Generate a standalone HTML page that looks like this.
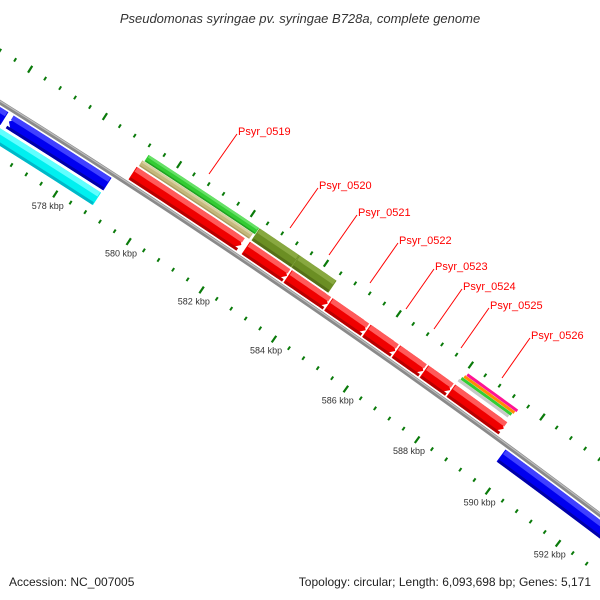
<!DOCTYPE html>
<html><head><meta charset="utf-8"><style>
html,body{margin:0;padding:0;background:#fff;width:600px;height:600px;overflow:hidden;}
svg{display:block;font-family:"Liberation Sans",sans-serif;overflow:hidden;}
</style></head><body>
<svg id="map" width="600" height="600" viewBox="0 0 600 600">
<text x="300" y="23" text-anchor="middle" font-size="13" font-style="italic" fill="#333">Pseudomonas syringae pv. syringae B728a, complete genome</text>
<g id="ticks"></g>
<g id="feats"></g>
<g id="labels"></g>
<rect x="0" y="570" width="600" height="30" fill="#fff"/>
<text x="9" y="586" font-size="12" fill="#222">Accession: NC_007005</text>
<text x="591" y="586" text-anchor="end" font-size="12" fill="#222">Topology: circular; Length: 6,093,698 bp; Genes: 5,171</text>
</svg>
<script>
// data (kbp)
const geneNames=["Psyr_0519","Psyr_0520","Psyr_0521","Psyr_0522","Psyr_0523","Psyr_0524","Psyr_0525","Psyr_0526"];
const redStarts=[579.22,582.30,583.45,584.57,585.62,586.44,587.22,587.97];
const redEnds=[582.18,583.43,584.55,585.60,586.42,587.20,587.95,589.45];
const labelX=[238,319,358,399,435,463,490,531];
const labelY=[131,185,212,240,266,286,305,335];
const revStarts=[570.0,576.22,589.76];
const revEnds=[576.10,578.88,600.0];
const cyanStarts=[570.0];
const cyanEnds=[578.86];
const tanStarts=[579.25];const tanEnds=[582.25];
const greenStarts=[579.30];const greenEnds=[582.30];
const oliveStarts=[582.31,583.40];const oliveEnds=[583.40,584.42];
const stackStart=[587.97];const stackEnd=[589.37];
const tickMin=570, tickMax=596;

const NS="http://www.w3.org/2000/svg";
const CX=-4341, CY=7059, R=8200;
function ang(k){return (-55.52+(k-584)/3.2526)*Math.PI/180;}
function pt(k,v){const a=ang(k),r=R+v;return [CX+r*Math.cos(a),CY+r*Math.sin(a)];}
function arcPts(k1,k2,v,n){const p=[];for(let i=0;i<=n;i++){p.push(pt(k1+(k2-k1)*i/n,v));}return p;}
function poly(parent,pts,fill,name){const e=document.createElementNS(NS,'polygon');
e.setAttribute('points',pts.map(p=>p[0].toFixed(2)+','+p[1].toFixed(2)).join(' '));
e.setAttribute('fill',fill);


parent.appendChild(e);return e;}
function band(parent,k1,k2,v1,v2,fill,name,dir){
  const ah=0.16, n=16;
  let a1=k1,a2=k2;
  if(dir===1)a2=Math.max(k1,k2-ah); if(dir===-1)a1=Math.min(k2,k1+ah);
  let pts=arcPts(a1,a2,v2,n);
  if(dir===1)pts.push(pt(k2,(v1+v2)/2));
  pts=pts.concat(arcPts(a2,a1,v1,n));
  if(dir===-1)pts.push(pt(k1,(v1+v2)/2));
  return poly(parent,pts,fill,name);
}
function shaded(parent,k1,k2,v1,v2,cols,name,dir){
  band(parent,k1,k2,v1,v2,cols[0],name,dir);
  const h=(v2-v1);
  band(parent,k1+0.02,k2-0.02,v2-h*0.35,v2,cols[1],name+'-highlight',0);
  band(parent,k1+0.02,k2-0.02,v1,v1+h*0.2,cols[2],name+'-shadow',0);
}
const feats=document.getElementById('feats');
(function(){const p=arcPts(tickMin,tickMax,0,60);
const e=document.createElementNS(NS,'polyline');
e.setAttribute('points',p.map(q=>q[0].toFixed(2)+','+q[1].toFixed(2)).join(' '));
e.setAttribute('fill','none');e.setAttribute('stroke','#8a8a8a');e.setAttribute('stroke-width','4.5');


feats.appendChild(e);
const e2=document.createElementNS(NS,'polyline');
const p2=arcPts(tickMin,tickMax,1,60);
e2.setAttribute('points',p2.map(q=>q[0].toFixed(2)+','+q[1].toFixed(2)).join(' '));
e2.setAttribute('fill','none');e2.setAttribute('stroke','#bdbdbd');e2.setAttribute('stroke-width','1.2');


feats.appendChild(e2);})();
for(let i=0;i<revStarts.length;i++){
  shaded(feats,revStarts[i],revEnds[i],-19,-4,['#0000f0','#4040ff','#0000a8'],'reverse-gene-'+i,i===1?-1:0);
}
for(let i=0;i<cyanStarts.length;i++){
  shaded(feats,cyanStarts[i],cyanEnds[i],-37,-22,['#00f0f0','#60ffff','#00b8c8'],'cyan-feature-'+i,0);
}
for(let i=0;i<redStarts.length;i++){
  shaded(feats,redStarts[i],redEnds[i],4,19,['#f00000','#ff5a5a','#b80000'],'gene-'+geneNames[i],1);
}
for(let i=0;i<tanStarts.length;i++){shaded(feats,tanStarts[i],tanEnds[i],21,27.5,['#c4b87c','#d8d0a0','#a89c60'],'tan-feature-'+i,0);}
for(let i=0;i<greenStarts.length;i++){shaded(feats,greenStarts[i],greenEnds[i],28,35.5,['#33cc33','#66e066','#22a022'],'green-feature-'+i,0);}
for(let i=0;i<oliveStarts.length;i++){shaded(feats,oliveStarts[i],oliveEnds[i],21,35.5,['#6b8e23','#88a840','#557018'],'olive-feature-'+i,0);}
const stackCols=['#c8c8c8','#33cc33','#ff8c00','#ff1493'];
for(let j=0;j<stackCols.length;j++){
  band(feats,stackStart[0]+j*0.03,stackEnd[0]+j*0.03,23+j*3.2,26+j*3.2,stackCols[j],'stacked-feature-'+j,0);
}
const ticks=document.getElementById('ticks');
const nT=Math.round((tickMax-tickMin)/0.4);
for(let i=0;i<=nT;i++){
  const k=tickMin+i*0.4, major=(i%5===0);
  [[42,46,40,48],[-49,-45,-52,-44]].forEach((r,ri)=>{
    const a=major?pt(k,r[2]):pt(k,r[0]), b=major?pt(k,r[3]):pt(k,r[1]);
    const l=document.createElementNS(NS,'line');
    l.setAttribute('x1',a[0]);l.setAttribute('y1',a[1]);l.setAttribute('x2',b[0]);l.setAttribute('y2',b[1]);
    l.setAttribute('stroke','#0a7a0a');l.setAttribute('stroke-width',major?2.2:2);
    
    
    ticks.appendChild(l);
  });
  if(major){
    const p=pt(k,-62);
    const t=document.createElementNS(NS,'text');
    t.setAttribute('x',p[0]);t.setAttribute('y',p[1]+3);t.setAttribute('text-anchor','middle');
    t.setAttribute('font-size','9');t.setAttribute('fill','#333');
    
    
    t.textContent=Math.round(k)+' kbp';ticks.appendChild(t);
  }
}
const labels=document.getElementById('labels');
for(let i=0;i<geneNames.length;i++){
  const x=labelX[i],y=labelY[i];
  const l=document.createElementNS(NS,'line');
  l.setAttribute('x1',x-1);l.setAttribute('y1',y+3);l.setAttribute('x2',x-29);l.setAttribute('y2',y+43);
  l.setAttribute('stroke','#ff0000');l.setAttribute('stroke-width','1');
  
  
  labels.appendChild(l);
  const t=document.createElementNS(NS,'text');
  t.setAttribute('x',x);t.setAttribute('y',y+4);t.setAttribute('font-size','11');t.setAttribute('fill','#ff0000');
  
  
  t.textContent=geneNames[i];labels.appendChild(t);
}
</script>
</body></html>
